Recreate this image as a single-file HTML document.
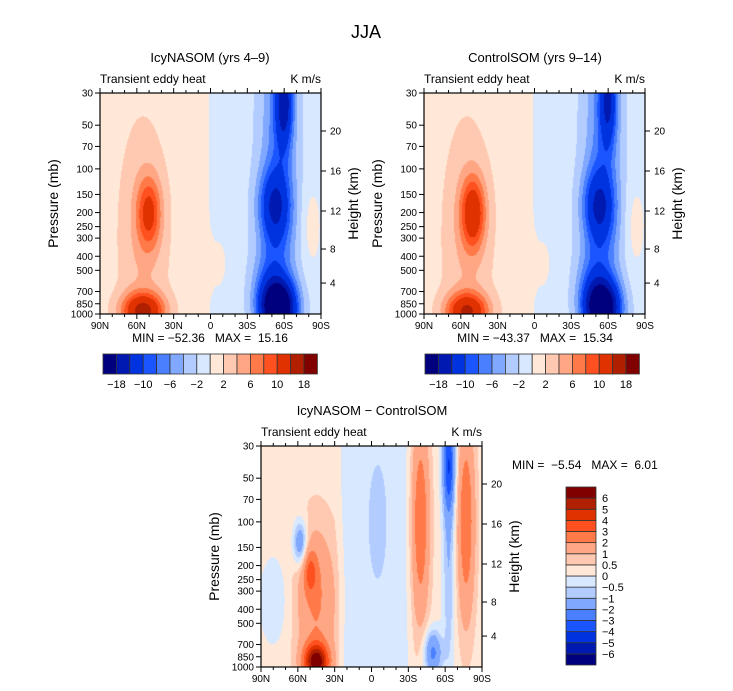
<!DOCTYPE html>
<html><head><meta charset="utf-8"><style>
body{margin:0;background:#fff;width:733px;height:691px;position:relative;overflow:hidden;font-family:"Liberation Sans",sans-serif}
canvas{position:absolute}
svg{position:absolute;left:0;top:0}
text{white-space:pre}
</style></head><body>
<canvas id="c1" style="left:100px;top:93px" width="221" height="221"></canvas>
<canvas id="c2" style="left:424px;top:93px" width="221" height="221"></canvas>
<canvas id="c3" style="left:261px;top:446px" width="221" height="221"></canvas>
<svg id="s" width="733" height="691"></svg>
<script>
// ---- data ----
const colors=["#00007f","#0019b0","#0033e0","#1a55ff","#4a7fff","#80a8ff","#b3ccff","#d8e8ff","#ffe8d8","#ffc8b0","#ffa684","#ff7a48","#ff5020","#e03200","#b02000","#800000"];
const levelsMain=[-18,-14,-10,-8,-6,-4,-2,0,2,4,6,8,10,14,18];
const levelsDiff=[-6,-5,-4,-3,-2,-1,-0.5,0,0.5,1,2,3,4,5,6];
const mainBarLabels=["−18","−10","−6","−2","2","6","10","18"];
const diffBarLabels=["−6","−5","−4","−3","−2","−1","−0.5","0","0.5","1","2","3","4","5","6"];
const pressTicks=[30,50,70,100,150,200,250,300,400,500,700,850,1000];
const latTicks=[90,60,30,0,-30,-60,-90];
const latLabels=["90N","60N","30N","0","30S","60S","90S"];
const heightTicks=[20,16,12,8,4];
const heightFrac=[0.172,0.353,0.534,0.706,0.86];
// background: lat nodes & values
const base1Lat=[90,6,-4,-90], base1Val=[1,1,-1,-1];
const base2Lat=[90,6,-4,-90], base2Val=[1,1,-1,-1];
const base3Lat=[90,30,20,-25,-35,-90], base3Val=[0.3,0.3,-0.3,-0.3,0.25,0.25];
// blobs: lat, pressure(mb), sigma lat(deg), sigma ln p, amplitude
const blobs1Lat=[-55,-60,-52,-55,55,50,55,-5,-82,-45];
const blobs1P=[200,35,180,900,950,200,300,450,250,600];
const blobs1SL=[11,5,9,10,12,7,14,6,6,9];
const blobs1SP=[3,0.5,0.4,0.3,0.2,0.4,1.3,0.3,0.5,0.4];
const blobs1A=[-6,-12,-9,-22,13,8,3,2,2,-3];
const blobs2Lat=[-55,-60,-52,-55,55,50,55,-5,-82,-45];
const blobs2P=[200,35,180,900,950,200,300,450,250,600];
const blobs2SL=[11,5,9,10,12,7,14,6,6,9];
const blobs2SP=[3,0.5,0.4,0.3,0.2,0.4,1.3,0.3,0.5,0.4];
const blobs2A=[-6,-10,-9,-20,12,10,3,2,2,-3];
const blobs3Lat=[-40,-77,-63,-63,45,45,50,58,-50,-5,80];
const blobs3P=[100,100,40,150,920,350,220,140,800,100,350];
const blobs3SL=[5,5,3.5,3.5,7,11,4,4,5,8,8];
const blobs3SP=[1.1,1.1,0.5,1.5,0.2,0.8,0.25,0.25,0.25,1,0.5];
const blobs3A=[2.6,2.6,-3.5,-1.3,6,1.8,2,-2.3,-2.5,-0.3,-0.8];

const L30=Math.log(30),L1000=Math.log(1000);
function xOf(lat,x0,w){return x0+(90-lat)/180*w;}
function yOf(p,y0,h){return y0+(Math.log(p)-L30)/(L1000-L30)*h;}
function baseVal(lat,bl,bv){for(let i=0;i<bl.length-1;i++){if(lat<=bl[i]&&lat>=bl[i+1]){const t=(bl[i]-lat)/(bl[i]-bl[i+1]);return bv[i]+(bv[i+1]-bv[i])*t;}}return bv[bv.length-1];}
function draw(id,bl,bv,la,pp,sl,sp,am,lev){
  const c=document.getElementById(id),ctx=c.getContext('2d');
  for(let j=0;j<221;j++){const lp=L30+(j+0.5)/221*(L1000-L30);
    for(let i=0;i<221;i++){const lat=90-(i+0.5)/221*180;
      let v=baseVal(lat,bl,bv);
      for(let k=0;k<la.length;k++){const dx=(lat-la[k])/sl[k],dy=(lp-Math.log(pp[k]))/sp[k];v+=am[k]*Math.exp(-0.5*(dx*dx+dy*dy));}
      let idx=0;while(idx<lev.length&&v>lev[idx])idx++;
      ctx.fillStyle=colors[idx];ctx.fillRect(i,j,1,1);}}
}
draw('c1',base1Lat,base1Val,blobs1Lat,blobs1P,blobs1SL,blobs1SP,blobs1A,levelsMain);
draw('c2',base2Lat,base2Val,blobs2Lat,blobs2P,blobs2SL,blobs2SP,blobs2A,levelsMain);
draw('c3',base3Lat,base3Val,blobs3Lat,blobs3P,blobs3SL,blobs3SP,blobs3A,levelsDiff);

const S=document.getElementById('s'),NS='http://www.w3.org/2000/svg';
function el(t,a,txt){const e=document.createElementNS(NS,t);for(const k in a)e.setAttribute(k,a[k]);if(txt!=null)e.textContent=txt;S.appendChild(e);return e;}
function txt(x,y,s,size,anchor,name,rot){const e=el('text',{x:x,y:y,'font-size':size,'text-anchor':anchor||'middle',fill:'#000'},s);


if(rot)e.setAttribute('transform','rotate(-90 '+x+' '+y+')');return e;}
function panel(x0,y0,title,tcx,tcy,pn){
  const w=221,h=221;
  txt(tcx,tcy,title,13,'middle',pn+'-title');
  txt(x0,y0-10,'Transient eddy heat',12,'start',pn+'-subtitle-left');
  txt(x0+w,y0-10,'K m/s',12,'end',pn+'-units');
  const f=el('rect',{x:x0,y:y0,width:w,height:h,fill:'none',stroke:'#000','stroke-width':1.2});
  
  
  for(let lat=90;lat>=-90;lat-=10){const x=xOf(lat,x0,w);const maj=lat%30===0;const len=maj?5:3;
    el('line',{x1:x,y1:y0+h,x2:x,y2:y0+h+len,stroke:'#000'});el('line',{x1:x,y1:y0,x2:x,y2:y0-len,stroke:'#000'});}
  latTicks.forEach((lat,i)=>{txt(xOf(lat,x0,w),y0+h+15,latLabels[i],10,'middle',pn+'-lat-label');});
  pressTicks.forEach(p=>{const y=yOf(p,y0,h);el('line',{x1:x0-5,y1:y,x2:x0,y2:y,stroke:'#000'});txt(x0-7,y+3.5,String(p),10,'end',pn+'-pressure-label');});
  heightTicks.forEach((z,i)=>{const y=y0+heightFrac[i]*h;el('line',{x1:x0+w,y1:y,x2:x0+w+5,y2:y,stroke:'#000'});txt(x0+w+9,y+3.5,String(z),10,'start',pn+'-height-label');});
  txt(x0-42,y0+h/2,'Pressure (mb)',14,'middle',pn+'-y-axis-title',true);
  txt(x0+w+37,y0+h/2,'Height (km)',14,'middle',pn+'-y2-axis-title',true);
}
txt(366,38,'JJA',18,'middle','figure-title');
panel(100,93,'IcyNASOM (yrs 4–9)',210,62,'panel1');
panel(424,93,'ControlSOM (yrs 9–14)',535,62,'panel2');
panel(261,446,'IcyNASOM − ControlSOM',372,415,'panel3');
txt(210,342,'MIN = −52.36   MAX =  15.16',12,'middle','panel1-minmax');
txt(535,342,'MIN = −43.37   MAX =  15.34',12,'middle','panel2-minmax');
txt(512,469,'MIN =  −5.54   MAX =  6.01',12,'start','panel3-minmax');
function hbar(x0,name){const bw=13.4;
  colors.forEach((c,i)=>{const r=el('rect',{x:x0+i*bw,y:354,width:bw,height:20,fill:c,stroke:'#333','stroke-width':0.8});
  
  });
  mainBarLabels.forEach((l,k)=>{txt(x0+(2*k+1)*bw,388,l,11,'middle',name+'-label');});}
hbar(103,'panel1-colorbar');hbar(425,'panel2-colorbar');
const vb=178/16;
colors.forEach((c,i)=>{const r=el('rect',{x:566,y:487+(15-i)*vb,width:30,height:vb,fill:c,stroke:'#333','stroke-width':0.8});

});
diffBarLabels.forEach((l,k)=>{txt(602,487+(15-k)*vb+4,l,11,'start','panel3-colorbar-label');});
</script>
</body></html>
